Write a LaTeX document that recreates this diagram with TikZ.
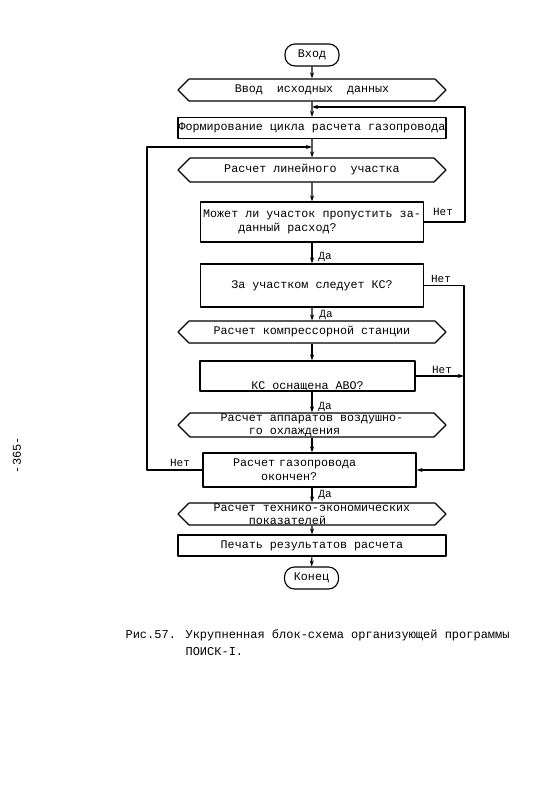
\documentclass[tikz,border=0pt]{standalone}
\usepackage{fontspec}
\setmainfont{Liberation Mono}
\usetikzlibrary{shapes.symbols,arrows.meta}

\begin{document}
\begin{tikzpicture}[
    x=1pt,
    y=-1pt,
    line width=1.1pt,
    line join=round,
    >={Stealth[length=6pt,width=4pt]},
    every node/.style={font=\fontsize{11.7}{14}\selectfont},
    term/.style={draw, rounded corners=10pt, minimum width=54pt, minimum height=22pt, inner sep=0pt},
    hexbox/.style={draw, signal, signal to=west and east, signal pointer angle=90,
        minimum width=268pt, minimum height=22pt, inner sep=0pt},
    procbox/.style={draw, rectangle, inner sep=0pt},
    note/.style={inner sep=0pt, font=\fontsize{11}{12}\selectfont}
]
    \useasboundingbox (0,0) rectangle (556,800);

    % блоки
    \node[term] (vhod) at (312,55) {Вход};
    \node[hexbox] (vvod) at (312,90) {Ввод\ \ исходных\ \ данных};
    \node[procbox, minimum width=268pt, minimum height=21pt] (form) at (312,128)
        {Формирование цикла расчета газопровода};
    \node[hexbox, minimum height=24pt] (lin) at (312,170) {Расчет линейного\ \ участка};
    \node[procbox, minimum width=223pt, minimum height=40pt, align=left] (mozhet) at (312,222)
        {Может ли участок пропустить за-\\\phantom{Может}данный расход?};
    \node[procbox, minimum width=223pt, minimum height=43pt] (za) at (312,285.5)
        {За участком следует КС?};
    \node[hexbox] (ks) at (312,332) {Расчет компрессорной станции};
    \node[procbox, minimum width=215pt, minimum height=30pt] (avo) at (307.5,376)
        {\raisebox{-13pt}[0pt][0pt]{КС оснащена АВО?}};
    \node[hexbox, minimum height=24pt, align=left, font=\fontsize{11.7}{13}\selectfont] (avocalc) at (312,425)
        {Расчет аппаратов воздушно-\\\phantom{Расч}го охлаждения};
    \node[procbox, minimum width=213pt, minimum height=34pt, text width=153pt, align=left] (okonchen) at (309.5,470)
        {Расчет газопровода\\\phantom{Расч}окончен?};
    \node[hexbox, align=left, font=\fontsize{11.7}{13}\selectfont] (tech) at (312,514)
        {Расчет технико-экономических\\\phantom{Расче}показателей};
    \node[procbox, minimum width=268pt, minimum height=21pt] (pechat) at (312,545.5)
        {Печать результатов расчета};
    \node[term] (konec) at (311.5,578) {Конец};

    % точки для обходов
    \coordinate (jtop) at (312,107);
    \coordinate (rtop) at (465,107);
    \coordinate (jleft) at (312,147);
    \coordinate (ltop) at (147,147);
    \coordinate (rbot) at (464,470);

    % основная линия
    \draw[->] (vhod) -- (vvod);
    \draw[->] (vvod) -- (form);
    \draw[->] (form) -- (lin);
    \draw[->] (lin) -- (mozhet);
    \draw[->] (mozhet) -- (za);
    \draw[->] (za) -- (ks);
    \draw[->] (ks.south) -- (ks.south |- avo.north);
    \draw[->] (avo.south -| ks) -- (avocalc.north);
    \draw[->] (avocalc.south) -- (avocalc.south |- okonchen.north);
    \draw[->] (okonchen.south -| tech) -- (tech.north);
    \draw[->] (tech) -- (pechat);
    \draw[->] (pechat) -- (konec);

    % обходы
    \draw[->] (mozhet.east) -| (rtop) -- (jtop);
    \draw[->] (za.east) -| (rbot) -- (okonchen.east);
    \draw[->] (avo.east) -- (avo.east -| rbot);
    \draw[->] (okonchen.west) -| (ltop) -- (jleft);

    % подписи
    \node[note] at (443,212) {Нет};
    \node[note] at (441,279) {Нет};
    \node[note] at (442,370) {Нет};
    \node[note] at (180,463) {Нет};
    \node[note] at (325,257) {Да};
    \node[note] at (326,315) {Да};
    \node[note] at (325,407) {Да};
    \node[note] at (325,495) {Да};

    % подпись рисунка и номер страницы
    \node[anchor=north west, align=left, inner sep=0pt, font=\fontsize{12}{17}\selectfont] (cap) at (125,629)
        {Рис.57. Укрупненная блок-схема организующей программы\\\phantom{Рис.57. }ПОИСК-I.};
    \node[rotate=90, inner sep=0pt, font=\fontsize{12}{14}\selectfont] (page) at (17,455) {-365-};
\end{tikzpicture}
\end{document}
